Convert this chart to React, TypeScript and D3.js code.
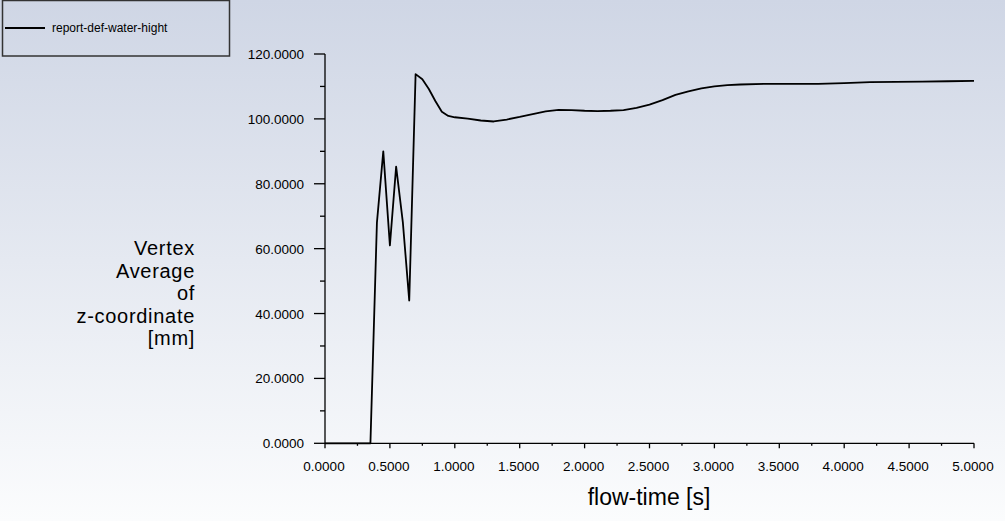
import React, { useEffect, useRef } from 'react';
import * as d3 from 'd3';

// flow-time [s] vs vertex average z-coordinate [mm]
const flowTime = [
  0, 0.35, 0.4, 0.449, 0.5, 0.548, 0.6, 0.649, 0.698, 0.75, 0.8, 0.85, 0.9, 0.95, 1.0, 1.1, 1.2, 1.3,
  1.4, 1.5, 1.6, 1.7, 1.8, 1.9, 2.0, 2.1, 2.2, 2.3, 2.4, 2.5, 2.6, 2.7, 2.8, 2.9, 3.0, 3.1, 3.2, 3.4,
  3.6, 3.8, 4.0, 4.2, 4.4, 4.6, 4.8, 5.0,
];
const waterHeight = [
  0, 0, 68, 90, 61, 85.3, 68, 44, 113.8, 112.2, 109.2, 105.5, 102.2, 100.9, 100.5, 100.1, 99.5, 99.2,
  99.8, 100.6, 101.5, 102.3, 102.8, 102.7, 102.5, 102.4, 102.5, 102.7, 103.4, 104.4, 105.8, 107.4,
  108.5, 109.4, 110.0, 110.4, 110.6, 110.8, 110.8, 110.8, 111.0, 111.3, 111.4, 111.5, 111.6, 111.7,
];
const xMajorTicks = [0, 0.5, 1, 1.5, 2, 2.5, 3, 3.5, 4, 4.5, 5];
const yMajorTicks = [0, 20, 40, 60, 80, 100, 120];
const yLabelLines = ['Vertex', 'Average', 'of', 'z-coordinate', '[mm]'];
const seriesName = 'report-def-water-hight';

const W = 1005;
const H = 521;
const FONT = '"Liberation Sans", Arial, sans-serif';

export default function App() {
  const svgRef = useRef<SVGSVGElement>(null);

  useEffect(() => {
    if (!svgRef.current) return;
    const svg = d3.select(svgRef.current);
    svg.selectAll('*').remove();

    // background gradient
    const defs = svg.append('defs');
    const grad = defs
      .append('linearGradient')
      .attr('id', 'bg-grad')
      .attr('x1', '0%')
      .attr('y1', '0%')
      .attr('x2', '0%')
      .attr('y2', '100%');
    grad.append('stop').attr('offset', '0%').attr('stop-color', '#cfd6e5');
    grad.append('stop').attr('offset', '100%').attr('stop-color', '#fbfcfd');
    svg.append('rect').attr('width', W).attr('height', H).attr('fill', 'url(#bg-grad)');

    const x = d3.scaleLinear().domain([0, 5]).range([325, 974]);
    const y = d3.scaleLinear().domain([0, 120]).range([443.3, 54]);

    // y axis
    const yAxis = svg.append('g');
    yAxis
      .append('line')
      .attr('x1', 325)
      .attr('x2', 325)
      .attr('y1', y(120))
      .attr('y2', y(0))
      .attr('stroke', '#000')
      .attr('stroke-width', 1.3);
    const yMinor = d3.range(10, 120, 20);
    yAxis
      .selectAll('.ymin')
      .data(yMinor)
      .enter()
      .append('line')
      .attr('x1', 320)
      .attr('x2', 325)
      .attr('y1', (d) => y(d))
      .attr('y2', (d) => y(d))
      .attr('stroke', '#000')
      .attr('stroke-width', 1.3);
    yAxis
      .selectAll('.ymaj')
      .data(yMajorTicks)
      .enter()
      .append('line')
      .attr('x1', 314)
      .attr('x2', 325)
      .attr('y1', (d) => y(d))
      .attr('y2', (d) => y(d))
      .attr('stroke', '#000')
      .attr('stroke-width', 1.3);
    yAxis
      .selectAll('.ylab')
      .data(yMajorTicks)
      .enter()
      .append('text')
      .attr('x', 304)
      .attr('y', (d) => y(d) + 5)
      .attr('text-anchor', 'end')
      .attr('font-family', FONT)
      .attr('font-size', 13.5)
      .attr('fill', '#000')
      .text((d) => d.toFixed(4));

    // x axis
    const xAxis = svg.append('g');
    xAxis
      .append('line')
      .attr('x1', x(0))
      .attr('x2', x(5))
      .attr('y1', y(0))
      .attr('y2', y(0))
      .attr('stroke', '#000')
      .attr('stroke-width', 1.3);
    const xMinor = d3.range(0.25, 5, 0.5);
    xAxis
      .selectAll('.xmin')
      .data(xMinor)
      .enter()
      .append('line')
      .attr('x1', (d) => x(d))
      .attr('x2', (d) => x(d))
      .attr('y1', y(0))
      .attr('y2', y(0) + 2.5)
      .attr('stroke', '#000')
      .attr('stroke-width', 1.3);
    xAxis
      .selectAll('.xmaj')
      .data(xMajorTicks)
      .enter()
      .append('line')
      .attr('x1', (d) => x(d))
      .attr('x2', (d) => x(d))
      .attr('y1', y(0))
      .attr('y2', y(0) + 5)
      .attr('stroke', '#000')
      .attr('stroke-width', 1.3);
    xAxis
      .selectAll('.xlab')
      .data(xMajorTicks)
      .enter()
      .append('text')
      .attr('x', (d) => x(d) - 1)
      .attr('y', 471)
      .attr('text-anchor', 'middle')
      .attr('font-family', FONT)
      .attr('font-size', 13.5)
      .attr('fill', '#000')
      .text((d) => d.toFixed(4));

    // axis titles
    svg
      .append('text')
      .attr('x', 649)
      .attr('y', 505)
      .attr('text-anchor', 'middle')
      .attr('font-family', FONT)
      .attr('font-size', 23)
      .attr('fill', '#000')
      .text('flow-time [s]');
    svg
      .append('g')
      .selectAll('text')
      .data(yLabelLines)
      .enter()
      .append('text')
      .attr('x', 195)
      .attr('y', (d, i) => 255 + i * 22.5)
      .attr('text-anchor', 'end')
      .attr('font-family', FONT)
      .attr('font-size', 20)
      .attr('letter-spacing', 0.7)
      .attr('fill', '#000')
      .text((d) => d);

    // series
    const pts = flowTime.map((t, i) => [t, waterHeight[i]] as [number, number]);
    const line = d3
      .line<[number, number]>()
      .x((d) => x(d[0]))
      .y((d) => y(d[1]))
      .curve(d3.curveLinear);
    svg
      .append('path')
      .datum(pts)
      .attr('d', line)
      .attr('fill', 'none')
      .attr('stroke', '#000')
      .attr('stroke-width', 1.8)
      .attr('stroke-linejoin', 'round');

    // legend
    const legend = svg.append('g');
    legend
      .append('rect')
      .attr('x', 2.5)
      .attr('y', 0.5)
      .attr('width', 227)
      .attr('height', 55.5)
      .attr('fill', 'none')
      .attr('stroke', '#333')
      .attr('stroke-width', 1.5);
    legend
      .append('line')
      .attr('x1', 5)
      .attr('x2', 45)
      .attr('y1', 28)
      .attr('y2', 28)
      .attr('stroke', '#000')
      .attr('stroke-width', 1.8);
    legend
      .append('text')
      .attr('x', 52)
      .attr('y', 32)
      .attr('font-family', FONT)
      .attr('font-size', 12)
      .attr('fill', '#000')
      .text(seriesName);
  }, []);

  return (
    <div style={{ position: 'absolute', left: 0, top: 0 }}>
      <svg ref={svgRef} width={W} height={H} style={{ display: 'block' }} />
    </div>
  );
}
